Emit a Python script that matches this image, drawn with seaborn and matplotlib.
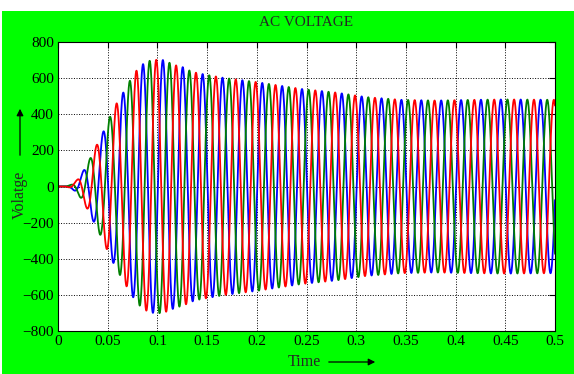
import numpy as np
import pandas as pd
import seaborn as sns
import matplotlib
matplotlib.use("Agg")
import matplotlib.pyplot as plt
from matplotlib.patches import Rectangle

# peak envelope of the three phase voltages
env_time = [0.0, 0.008, 0.014, 0.019, 0.024, 0.0305, 0.037, 0.0446, 0.0513,
            0.059, 0.0657, 0.0724, 0.079, 0.0858, 0.093, 0.1, 0.106, 0.113,
            0.12, 0.126, 0.133, 0.14, 0.153, 0.166, 0.2, 0.245, 0.28, 0.31,
            0.345, 0.38, 0.42, 0.45, 0.5]
env_amp = [0, 0, 12, 35, 72, 135, 209, 292, 375, 461, 521, 587, 642, 679,
           698, 702, 700, 683, 668, 660, 640, 628, 615, 602, 578, 540, 520,
           495, 480, 476, 480, 482, 480]

freq_hz = 50.0
first_peak_t = 0.0055          # time of a blue phase peak
phases = ['Va', 'Vb', 'Vc']
phase_shift_deg = [0, -120, -240]
phase_colors = ['#0000ff', '#008000', '#ff0000']

x_ticks = [0, 0.05, 0.1, 0.15, 0.2, 0.25, 0.3, 0.35, 0.4, 0.45, 0.5]
x_tick_labels = ['0', '0.05', '0.1', '0.15', '0.2', '0.25', '0.3', '0.35',
                 '0.4', '0.45', '0.5']
y_ticks = [-800, -600, -400, -200, 0, 200, 400, 600, 800]

# build the waveforms
t = np.linspace(0, 0.5, 20001)
env = np.interp(t, env_time, env_amp)
frames = []
for name, shift in zip(phases, phase_shift_deg):
    v = env * np.cos(2 * np.pi * freq_hz * (t - first_peak_t) + np.deg2rad(shift))
    frames.append(pd.DataFrame({'t': t, 'v': v, 'phase': name}))
df = pd.concat(frames, ignore_index=True)

sns.set_style("white")
plt.rcParams['font.family'] = ['Liberation Serif', 'DejaVu Serif']
plt.rcParams['axes.linewidth'] = 0.8

W, H = 574, 374
fig = plt.figure(figsize=(W / 100, H / 100), dpi=100)
fig.patch.set_facecolor('#00ff00')
# white margin on top and left of the original screenshot
fig.patches.append(Rectangle((0, 1 - 11 / H), 1, 11 / H, transform=fig.transFigure,
                             facecolor='white', edgecolor='none', zorder=0))
fig.patches.append(Rectangle((0, 0), 2 / W, 1, transform=fig.transFigure,
                             facecolor='white', edgecolor='none', zorder=0))

left, right, top, bottom = 58, 555, 42, 331
ax = fig.add_axes([left / W, 1 - bottom / H, (right - left) / W, (bottom - top) / H])
ax.set_facecolor('white')

sns.lineplot(data=df, x='t', y='v', hue='phase', hue_order=phases,
             palette=phase_colors, estimator=None, sort=False, legend=False,
             linewidth=1.3, ax=ax)

ax.set_xlim(0, 0.5)
ax.set_ylim(-800, 800)
ax.set_xticks(x_ticks)
ax.set_xticklabels(x_tick_labels)
ax.set_yticks(y_ticks)
ax.tick_params(direction='in', top=True, right=True, length=4, width=0.8,
               labelsize=11, pad=3, colors='black')
ax.grid(True, linestyle=':', color='black', linewidth=0.7)
ax.set_axisbelow(True)
for s in ax.spines.values():
    s.set_color('black')
ax.set_xlabel('')
ax.set_ylabel('')

fig.text(((left + right) / 2) / W, 1 - 23 / H, 'AC VOLTAGE', ha='center',
         va='center', fontsize=11)

# x label with arrow
fig.text(304 / W, 1 - 362 / H, 'Time', ha='center', va='center', fontsize=11.5)
ax.annotate('', xy=(378 / W, 1 - 362 / H), xytext=(326 / W, 1 - 362 / H),
            xycoords='figure fraction', textcoords='figure fraction',
            arrowprops=dict(arrowstyle='-|>', color='black', lw=0.9,
                            mutation_scale=10))

# y label with arrow
fig.text(20 / W, 1 - 195 / H, 'Volatge', ha='center', va='center', fontsize=11.5,
         rotation=90)
ax.annotate('', xy=(20 / W, 1 - 106 / H), xytext=(20 / W, 1 - 158 / H),
            xycoords='figure fraction', textcoords='figure fraction',
            arrowprops=dict(arrowstyle='-|>', color='black', lw=0.9,
                            mutation_scale=10))

fig.savefig('out.png', dpi=100, facecolor=fig.get_facecolor())
